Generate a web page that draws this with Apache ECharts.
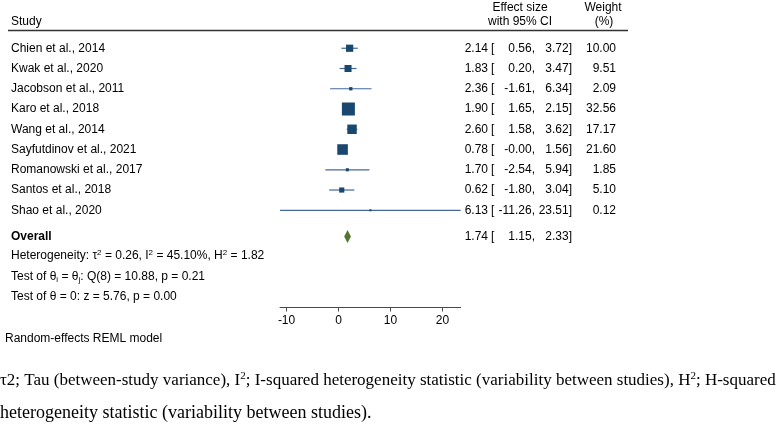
<!DOCTYPE html>
<html><head><meta charset="utf-8">
<script src="https://cdn.jsdelivr.net/npm/echarts@6/dist/echarts.min.js"></script>
<style>html,body{margin:0;padding:0;background:#fff}#c{width:780px;height:432px}</style>
</head><body><div id="c"></div>
<script>
// ---------- data ----------
const studies = ['Chien et al., 2014','Kwak et al., 2020','Jacobson et al., 2011','Karo et al., 2018','Wang et al., 2014','Sayfutdinov et al., 2021','Romanowski et al., 2017','Santos et al., 2018','Shao et al., 2020'];
const effect = [2.14, 1.83, 2.36, 1.90, 2.60, 0.78, 1.70, 0.62, 6.13];
const ciLow  = [0.56, 0.20, -1.61, 1.65, 1.58, -0.00, -2.54, -1.80, -11.26];
const ciHigh = [3.72, 3.47, 6.34, 2.15, 3.62, 1.56, 5.94, 3.04, 23.51];
const weight = [10.00, 9.51, 2.09, 32.56, 17.17, 21.60, 1.85, 5.10, 0.12];
const overall = [1.74, 1.15, 2.33];           // effect, low, high
const heterogeneity = [0.26, 45.10, 1.82];    // tau2, I2, H2
const testHomog = [8, 10.88, 0.21];           // df, Q, p
const testZero = [5.76, 0.00];                // z, p
const xTicks = [-10, 0, 10, 20];
const xRange = [-11.26, 23.51];

// ---------- layout ----------
const ROW_POS = [1,2,3,4,5,6,7,8,9];
const OVERALL_POS = 10.3;
const INFO_POS = [11.26, 12.29, 13.28];
const FONT = '"Liberation Sans", Arial, sans-serif';
const SERIF = '"Liberation Serif", "Times New Roman", serif';
const COL = {study: 11, es: 488, bracket: 491, lo: 535, hi: 572, w: 616};

const fmt = v => (Object.is(v, -0) ? '-' : '') + v.toFixed(2);

const richSS = {
  sup: {font: '8px ' + FONT, verticalAlign: 'top', fill: '#000', lineHeight: 14},
  sub: {font: '8px ' + FONT, verticalAlign: 'bottom', fill: '#000', lineHeight: 14},
  n: {font: '12px ' + FONT, fill: '#000', lineHeight: 14}
};

// rows of text built from data
const textRows = [];
studies.forEach((s, i) => {
  textRows.push({pos: ROW_POS[i], items: [
    {x: COL.study, text: s, align: 'left'},
    {x: COL.es, text: fmt(effect[i]), align: 'right'},
    {x: COL.bracket, text: '[', align: 'left'},
    {x: COL.lo, text: fmt(ciLow[i]) + ',', align: 'right'},
    {x: COL.hi, text: fmt(ciHigh[i]) + ']', align: 'right'},
    {x: COL.w, text: fmt(weight[i]), align: 'right'}
  ]});
});
textRows.push({pos: OVERALL_POS, items: [
  {x: COL.study, text: 'Overall', align: 'left', bold: true},
  {x: COL.es, text: fmt(overall[0]), align: 'right'},
  {x: COL.bracket, text: '[', align: 'left'},
  {x: COL.lo, text: fmt(overall[1]) + ',', align: 'right'},
  {x: COL.hi, text: fmt(overall[2]) + ']', align: 'right'}
]});
textRows.push({pos: INFO_POS[0], items: [
  {x: COL.study, align: 'left', rich: true,
   text: '{n|Heterogeneity: τ}{sup|2}{n| = ' + fmt(heterogeneity[0]) + ', I}{sup|2}{n| = ' + fmt(heterogeneity[1]) + '%, H}{sup|2}{n| = ' + fmt(heterogeneity[2]) + '}'}
]});
textRows.push({pos: INFO_POS[1], items: [
  {x: COL.study, align: 'left', rich: true,
   text: '{n|Test of θ}{sub|i}{n| = θ}{sub|j}{n|: Q(' + testHomog[0] + ') = ' + fmt(testHomog[1]) + ', p = ' + fmt(testHomog[2]) + '}'}
]});
textRows.push({pos: INFO_POS[2], items: [
  {x: COL.study, align: 'left',
   text: 'Test of θ = 0: z = ' + fmt(testZero[0]) + ', p = ' + fmt(testZero[1])}
]});

const chart = echarts.init(document.getElementById('c'), null, {renderer: 'canvas'});

const T = (x, y, text, size, align, family) => ({type: 'text', x, y, style: {
  text, font: size + 'px ' + (family || FONT), fill: '#000',
  align, verticalAlign: 'middle', textAlign: align, textVerticalAlign: 'middle'}});

const option = {
  animation: false,
  backgroundColor: '#fff',
  grid: {left: 280, width: 180.7, top: 28, height: 279.5},
  xAxis: {
    type: 'value', min: xRange[0], max: xRange[1],
    axisLine: {onZero: false, lineStyle: {color: '#4a4a4a', width: 1}},
    axisTick: {length: 4, customValues: xTicks, lineStyle: {color: '#4a4a4a'}},
    axisLabel: {customValues: xTicks, fontSize: 12, color: '#000', fontFamily: FONT, margin: 7},
    splitLine: {show: false}
  },
  yAxis: {type: 'value', min: 0, max: 13.8, inverse: true, show: false, splitLine: {show: false}},
  series: [
    {
      type: 'custom', name: 'ci', clip: false,
      data: studies.map((s, i) => [ciLow[i], ciHigh[i], ROW_POS[i]]),
      encode: {x: [0, 1], y: 2},
      renderItem: (params, api) => {
        const a = api.coord([api.value(0), api.value(2)]);
        const b = api.coord([api.value(1), api.value(2)]);
        return {type: 'line', shape: {x1: a[0], y1: a[1], x2: b[0], y2: b[1]},
          style: {stroke: '#44699a', lineWidth: 1.2}};
      }
    },
    {
      type: 'scatter', name: 'effect', symbol: 'rect',
      data: studies.map((s, i) => [effect[i], ROW_POS[i], weight[i]]),
      symbolSize: v => Math.max(2, 2.28 * Math.sqrt(v[2])),
      itemStyle: {color: '#1a476f', opacity: 1}
    },
    {
      type: 'custom', name: 'overall', clip: false,
      data: [[overall[0], overall[1], overall[2], OVERALL_POS]],
      encode: {x: [1, 2], y: 3},
      renderItem: (params, api) => {
        const c = api.coord([api.value(0), api.value(3)]);
        const l = api.coord([api.value(1), api.value(3)]);
        const r = api.coord([api.value(2), api.value(3)]);
        return {type: 'polygon', shape: {points: [[l[0] - 0.3, c[1]], [c[0], c[1] - 6.5], [r[0] + 0.3, c[1]], [c[0], c[1] + 6.5]]},
          style: {fill: '#55752f'}};
      }
    },
    {
      type: 'custom', name: 'text', clip: false, silent: true,
      data: textRows.map((r, i) => [0, r.pos]),
      encode: {x: 0, y: 1},
      renderItem: (params, api) => {
        const row = textRows[params.dataIndex];
        const y = api.coord([0, row.pos])[1];
        return {type: 'group', children: row.items.map(it => ({
          type: 'text', x: it.x, y: y,
          style: {
            text: it.text, align: it.align, textAlign: it.align,
            verticalAlign: 'middle', textVerticalAlign: 'middle',
            font: (it.bold ? 'bold ' : '') + '12px ' + FONT, fill: '#000',
            rich: it.rich ? richSS : undefined
          }
        }))};
      }
    }
  ],
  graphic: [
    T(11, 22, 'Study', 12, 'left'),
    T(520, 8, 'Effect size', 12, 'center'),
    T(520, 22, 'with 95% CI', 12, 'center'),
    T(603, 8, 'Weight', 12, 'center'),
    T(604, 22, '(%)', 12, 'center'),
    {type: 'line', shape: {x1: 8, y1: 30.5, x2: 628, y2: 30.5}, style: {stroke: '#333', lineWidth: 1.3}},
    T(5, 339, 'Random-effects REML model', 12, 'left'),
    {type: 'text', x: 0, y: 381, style: {
      text: '{n|τ2; Tau (between-study variance), I}{s|2}{n|; I-squared heterogeneity statistic (variability between studies), H}{s|2}{n|; H-squared}',
      align: 'left', verticalAlign: 'middle', textAlign: 'left', textVerticalAlign: 'middle',
      font: '17px ' + SERIF, fill: '#000',
      rich: {n: {font: '17px ' + SERIF, fill: '#000', lineHeight: 20}, s: {font: '11px ' + SERIF, fill: '#000', verticalAlign: 'top', lineHeight: 20}}
    }},
    T(0, 413, 'heterogeneity statistic (variability between studies).', 18, 'left', SERIF)
  ]
};
chart.setOption(option);
</script>
</body></html>
